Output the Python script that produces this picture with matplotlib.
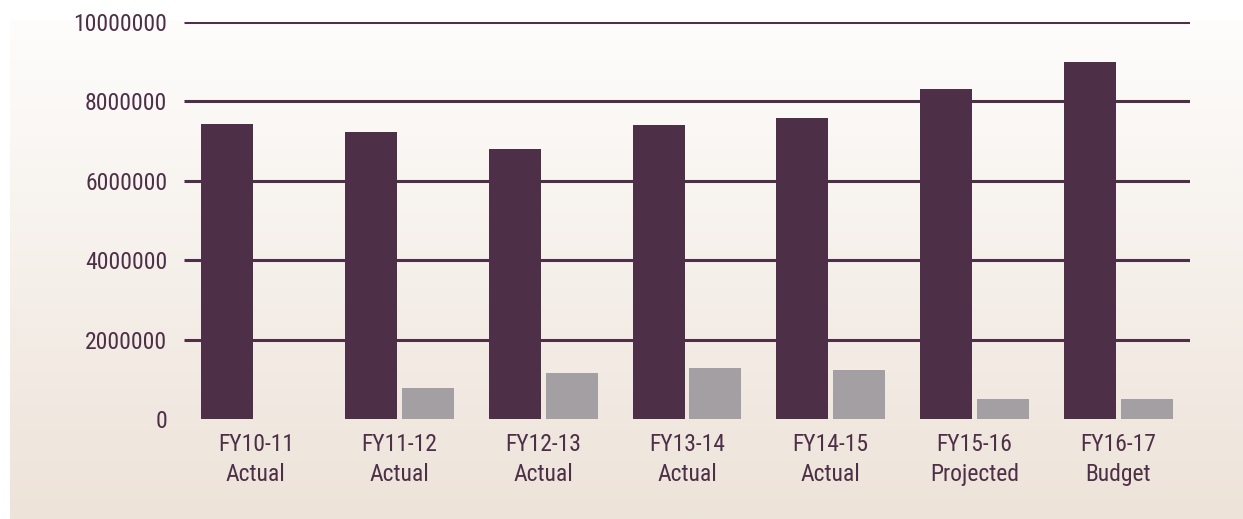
import numpy as np
import matplotlib
matplotlib.use("Agg")
import matplotlib.pyplot as plt
from matplotlib.colors import LinearSegmentedColormap
from matplotlib import font_manager as fm

categories = ["FY10-11\nActual", "FY11-12\nActual", "FY12-13\nActual", "FY13-14\nActual",
              "FY14-15\nActual", "FY15-16\nProjected", "FY16-17\nBudget"]
series_dark = [7440000, 7240000, 6810000, 7410000, 7590000, 8300000, 9000000]
series_gray = [0, 780000, 1160000, 1290000, 1240000, 500000, 500000]
yticks = [0, 2000000, 4000000, 6000000, 8000000, 10000000]
ytick_labels = ["0", "2000000", "4000000", "6000000", "8000000", "10000000"]

DARK = "#4e2f48"
GRAY = "#a49fa3"
TEXT = "#4e2f48"

# find a condensed/narrow font if installed
prefs = ["robotocondensed-regular", "liberationsansnarrow-regular", "dejavusanscondensed.ttf",
         "opensans_condensed-regular", "opensanscondensed", "notosans-condensed", "condensed", "narrow"]
files = [f.fname for f in fm.fontManager.ttflist]
chosen = None
for p in prefs:
    for fn in files:
        base = fn.lower().split("/")[-1]
        if p in base and "bold" not in base and "italic" not in base and "oblique" not in base \
                and "light" not in base and "medium" not in base and "semi" not in base \
                and "thin" not in base and "black" not in base and "extra" not in base:
            chosen = fn
            break
    if chosen:
        break
if chosen:
    fp = fm.FontProperties(fname=chosen, size=17)
else:
    fp = fm.FontProperties(family="DejaVu Sans", size=14)

fig = plt.figure(figsize=(12.43, 5.19), dpi=100)
fig.patch.set_facecolor("white")

# gradient background panel
bg = fig.add_axes([10/1243, 0, 1 - 10/1243, (519-20)/519], zorder=0)
cmap = LinearSegmentedColormap.from_list("g", ["#fefdfc", "#ede3d9"])
grad = np.linspace(0, 1, 256).reshape(-1, 1)
bg.imshow(grad, aspect="auto", cmap=cmap, extent=[0, 1, 0, 1], origin="upper")
bg.set_axis_off()

ax = fig.add_axes([184/1243, 1 - 419/519, (1190-184)/1243, (419-22)/519], zorder=1)
ax.patch.set_alpha(0)

x = np.arange(len(categories))
w = 0.362
off = 0.198
ax.set_xlim(-0.5, len(categories) - 0.5)
ax.set_ylim(0, 10000000)
ax.hlines(yticks[1:], -0.5, len(categories) - 0.5, colors=DARK, linewidth=2.2, zorder=1)
ax.bar(x - off, series_dark, width=w, color=DARK, zorder=2)
ax.bar(x + off, series_gray, width=w, color=GRAY, zorder=2)

ax.set_yticks(yticks)
ax.set_yticklabels(ytick_labels, fontproperties=fp, color=TEXT)
ax.set_xticks(x)
ax.set_xticklabels(categories, fontproperties=fp, color=TEXT, linespacing=1.4)
ax.tick_params(axis="both", length=0)
ax.tick_params(axis="y", pad=12)
ax.tick_params(axis="x", pad=10)
for s in ax.spines.values():
    s.set_visible(False)

fig.savefig("out.png", dpi=100, facecolor=fig.get_facecolor())
